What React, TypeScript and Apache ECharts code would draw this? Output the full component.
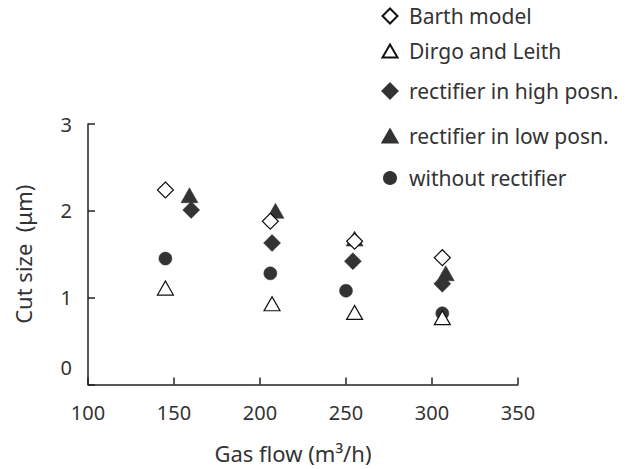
import React, { useEffect, useRef } from "react";
import * as echarts from "echarts";

const barthX = [145, 206, 255, 306];
const barthY = [2.24, 1.88, 1.65, 1.46];
const dirgoX = [145, 207, 255, 306];
const dirgoY = [1.11, 0.93, 0.83, 0.77];
const highX = [160, 207, 254, 306];
const highY = [2.01, 1.63, 1.42, 1.16];
const lowX = [159, 209, 255, 308];
const lowY = [2.18, 2.0, 1.68, 1.28];
const withoutX = [145, 206, 250, 306];
const withoutY = [1.45, 1.28, 1.08, 0.82];

const seriesNames = [
  "Barth model",
  "Dirgo and Leith",
  "rectifier in high posn.",
  "rectifier in low posn.",
  "without rectifier",
];

const FONT = "Noto Sans";
const TEXT = "#333";
const DARK = "#333";

function pairs(xs: number[], ys: number[]) {
  return xs.map((x, i) => [x, ys[i]]);
}

export default function App() {
  const ref = useRef<HTMLDivElement>(null);
  useEffect(() => {
    if (!ref.current) return;
    document.body.style.margin = "0";
    const chart = echarts.init(ref.current, null, { renderer: "svg" });
    const legendCenters = [16, 51, 91, 136, 178];
    const iconSizes = [
      [15, 15],
      [15, 13],
      [15, 15],
      [15, 13],
      [12, 12],
    ];
    const iconCenterX = 389;
    const textStartX = 408;
    const legends = seriesNames.map((name, i) => {
      const [w, h] = iconSizes[i];
      const left = iconCenterX - w / 2;
      const padLeft = textStartX - (left + w + 5);
      return {
        data: [name],
        orient: "vertical",
        left,
        top: legendCenters[i] - 11,
        padding: 0,
        itemWidth: w,
        itemHeight: h,
        selectedMode: false,
        textStyle: {
          fontFamily: FONT,
          fontSize: 21,
          color: TEXT,
          lineHeight: 22,
          padding: [0, 0, 0, padLeft],
        },
      };
    });
    const openStyle = { color: "#fff", borderColor: "#111", borderWidth: 1.2, opacity: 1 };
    const fillStyle = { color: DARK, borderColor: DARK, borderWidth: 0.5, opacity: 1 };
    chart.setOption({
      animation: false,
      backgroundColor: "#fff",
      textStyle: { fontFamily: FONT },
      legend: legends,
      grid: { left: 88, right: 117, top: 124, bottom: 84.5 },
      xAxis: {
        type: "value",
        min: 100,
        max: 350,
        interval: 50,
        name: "Gas flow (m³/h)",
        nameLocation: "middle",
        nameGap: 57,
        nameTextStyle: { fontFamily: FONT, fontSize: 22, color: TEXT, padding: [0, 20, 0, 0] },
        axisLine: { show: true, lineStyle: { color: "#222", width: 1.5 } },
        axisTick: { show: true, inside: true, length: 7, lineStyle: { color: "#222", width: 1.5 } },
        axisLabel: { fontFamily: FONT, fontSize: 20, color: TEXT, margin: 18 },
        splitLine: { show: false },
      },
      yAxis: {
        type: "value",
        min: 0,
        max: 3,
        interval: 1,
        name: "Cut size  (μm)",
        nameLocation: "middle",
        nameGap: 54,
        nameRotate: 90,
        nameTextStyle: { fontFamily: FONT, fontSize: 22, color: TEXT },
        axisLine: { show: true, lineStyle: { color: "#222", width: 1.5 } },
        axisTick: { show: true, inside: true, length: 7, lineStyle: { color: "#222", width: 1.5 } },
        axisLabel: {
          fontFamily: FONT,
          fontSize: 20,
          color: TEXT,
          margin: 16,
          formatter: (v: number) => (v === 0 ? "{z|0}" : String(v)),
          rich: { z: { fontFamily: FONT, fontSize: 20, color: TEXT, padding: [0, 0, 35, 0] } },
        },
        splitLine: { show: false },
      },
      series: [
        {
          name: seriesNames[3],
          type: "scatter",
          symbol: "triangle",
          symbolSize: [17, 15],
          itemStyle: fillStyle,
          data: pairs(lowX, lowY),
          z: 2,
        },
        {
          name: seriesNames[4],
          type: "scatter",
          symbol: "circle",
          symbolSize: 13,
          itemStyle: fillStyle,
          data: pairs(withoutX, withoutY),
          z: 2,
        },
        {
          name: seriesNames[2],
          type: "scatter",
          symbol: "diamond",
          symbolSize: [17, 17],
          itemStyle: fillStyle,
          data: pairs(highX, highY),
          z: 2,
        },
        {
          name: seriesNames[0],
          type: "scatter",
          symbol: "diamond",
          symbolSize: [16, 16],
          itemStyle: openStyle,
          data: pairs(barthX, barthY),
          z: 2,
        },
        {
          name: seriesNames[1],
          type: "scatter",
          symbol: "triangle",
          symbolSize: [16, 14],
          itemStyle: openStyle,
          data: pairs(dirgoX, dirgoY),
          z: 2,
        },
      ],
    });
    return () => chart.dispose();
  }, []);
  return <div ref={ref} style={{ width: 635, height: 469 }} />;
}
